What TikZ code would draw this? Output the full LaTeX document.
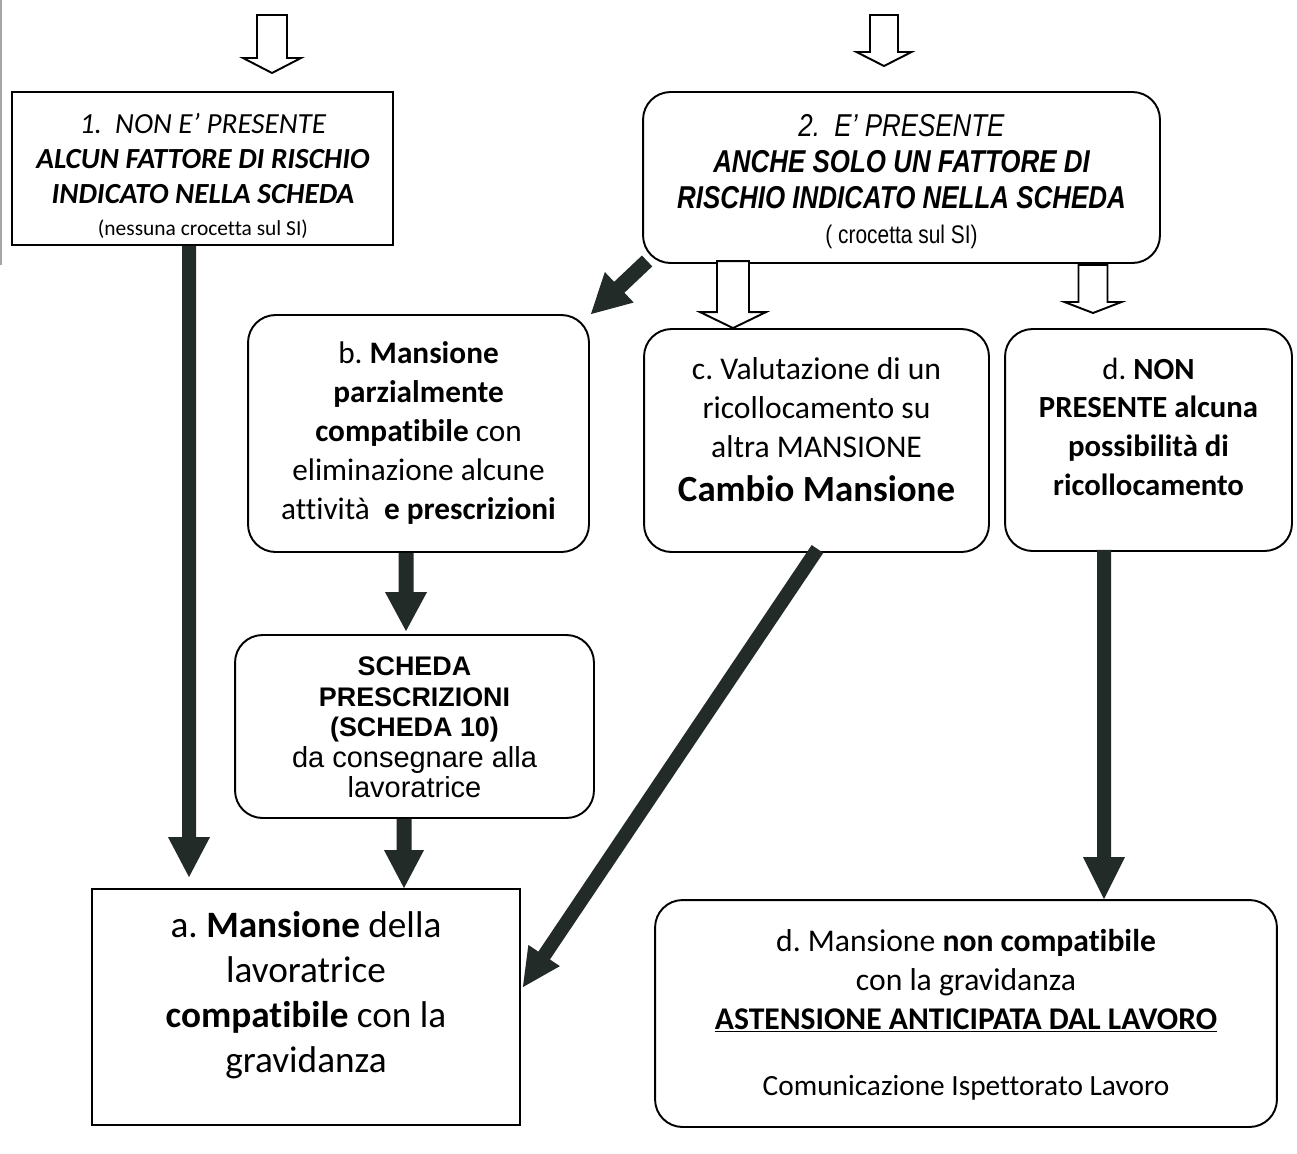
\documentclass[tikz,border=0pt]{standalone}
\usepackage{fontspec}
\setmainfont{Carlito}[Ligatures=NoCommon]
\newfontfamily\arialn[FakeStretch=0.82]{Liberation Sans}
\newfontfamily\arial{Liberation Sans}
\usetikzlibrary{calc}
\definecolor{arrdark}{RGB}{35,43,41}
\frenchspacing
\newcommand{\blockarr}[5]{%
  \coordinate (bah) at ($(#2)!#5!(#1)$);
  \fill[arrdark] ($(#1)!#3!90:(#2)$) -- ($(bah)!#3!90:(#2)$) -- ($(bah)!#4!90:(#2)$) -- (#2)
    -- ($(bah)!#4!-90:(#2)$) -- ($(bah)!#3!-90:(#2)$) -- ($(#1)!#3!-90:(#2)$) -- cycle;}
\begin{document}
\frenchspacing
\begin{tikzpicture}[x=0.02cm,y=-0.02cm,
  sqbox/.style={draw, line width=1.1pt, inner sep=0pt},
  rbox/.style={draw, line width=1.1pt, rounded corners=0.55cm, inner sep=0pt},
  txt/.style={align=center, inner sep=0pt},
  hollow/.style={draw, line width=1.1pt, fill=white, line join=miter}]
\fill[white] (0,0) rectangle (1297,1153);
\useasboundingbox (0,0) rectangle (1297,1153);
% scan edge
\draw[gray!70, line width=0.04cm] (1,0) -- (1,265);

% boxes
\node[sqbox, minimum width=7.62cm, minimum height=3.06cm] (n1) at (202.5,168.5) {};
\node[rbox, minimum width=10.34cm, minimum height=3.42cm] (n2) at (901.5,177.5) {};
\node[rbox, minimum width=6.82cm, minimum height=4.74cm] (nb) at (418.5,433.5) {};
\node[rbox, minimum width=6.9cm, minimum height=4.46cm] (nc) at (816.5,440.5) {};
\node[rbox, minimum width=5.74cm, minimum height=4.44cm] (nd) at (1148.5,440) {};
\node[rbox, minimum width=7.18cm, minimum height=3.66cm] (sch) at (414.5,726.5) {};
\node[sqbox, minimum width=8.56cm, minimum height=4.72cm] (na) at (306,1007) {};
\node[rbox, minimum width=12.44cm, minimum height=4.54cm] (nd2) at (966,1013.5) {};

% texts
\node[txt, font=\fontsize{16.6}{20}\selectfont] (t1) at (203,175.5)
 {{\itshape 1.\ \ NON E’ PRESENTE}\\ {\bfseries\itshape ALCUN FATTORE DI RISCHIO}\\ {\bfseries\itshape INDICATO NELLA SCHEDA}\\[-2pt]
  {\fontsize{12.2}{15}\selectfont (nessuna crocetta sul SI)}};
\node[txt, font=\arialn\fontsize{18}{20.5}\selectfont] (t2) at (901.5,181.5)
 {{\itshape 2.\ \ E’ PRESENTE}\\ {\bfseries\itshape ANCHE SOLO UN FATTORE DI}\\ {\bfseries\itshape RISCHIO INDICATO NELLA SCHEDA}\\[-1pt]
  {\fontsize{14.5}{15}\selectfont ( crocetta sul SI)}};
\node[txt, font=\fontsize{17.8}{22.3}\selectfont] (tb) at (418.5,433)
 {b. \textbf{Mansione}\\ \textbf{parzialmente}\\ \textbf{compatibile} con\\ eliminazione alcune\\ attività\ \ \textbf{e prescrizioni}};
\node[txt, font=\fontsize{18}{22.2}\selectfont] (tc) at (816.5,430)
 {c. Valutazione di un\\ ricollocamento su\\ altra MANSIONE\\[3pt] {\fontsize{21}{22}\selectfont\bfseries Cambio Mansione}};
\node[txt, font=\fontsize{17.5}{22}\selectfont] (td) at (1148.5,426.5)
 {d. \textbf{NON}\\ \textbf{PRESENTE alcuna}\\ \textbf{possibilità di}\\ \textbf{ricollocamento}};
\node[txt, font=\arial\fontsize{16.5}{17.3}\selectfont] (ts) at (414.5,727.5)
 {{\fontsize{15.3}{17.3}\selectfont\bfseries SCHEDA}\\ {\fontsize{15.3}{17.3}\selectfont\bfseries PRESCRIZIONI}\\ {\fontsize{15.3}{17.3}\selectfont\bfseries (SCHEDA 10)}\\ da consegnare alla\\ lavoratrice};
\node[txt, font=\fontsize{21.2}{25.5}\selectfont] (ta) at (306,995)
 {a. \textbf{Mansione} della\\ lavoratrice\\ \textbf{compatibile} con la\\ gravidanza};
\node[txt, font=\fontsize{18}{22}\selectfont] (td2) at (966,1015)
 {d. Mansione \textbf{non compatibile}\\ con la gravidanza\\ \underline{\textbf{ASTENSIONE ANTICIPATA DAL LAVORO}}\\[16pt]
  {\fontsize{16.7}{18}\selectfont Comunicazione Ispettorato Lavoro}};

% hollow arrows
\coordinate (h1) at (272,73);
\draw[hollow] (h1) -- ++(-29,-15) -- ++(14,0) -- ++(0,-43) -- ++(30,0) -- ++(0,43) -- ++(14,0) -- cycle;
\coordinate (h2) at (884,66);
\draw[hollow] (h2) -- ++(-27.5,-14) -- ++(13.5,0) -- ++(0,-37) -- ++(28,0) -- ++(0,37) -- ++(13.5,0) -- cycle;
\coordinate (h3) at (nc.north -| 733,0);
\draw[hollow] (h3) -- ++(-33,-16) -- ++(17,0) -- ++(0,-51) -- ++(32,0) -- ++(0,51) -- ++(17,0) -- cycle;
\coordinate (h4) at (1093,313);
\draw[hollow] (h4) -- ++(-28.5,-11) -- ++(14,0) -- ++(0,-37) -- ++(29,0) -- ++(0,37) -- ++(14,0) -- cycle;

% thick arrows
\coordinate (xa) at (189,0);
\coordinate (s1) at (n1.south -| xa);
\coordinate (e1) at ($(na.north -| xa)+(0,-11)$);
\blockarr{s1}{e1}{0.14cm}{0.42cm}{0.8cm}
\coordinate (xb) at (406,0);
\coordinate (s2) at (nb.south -| xb);
\coordinate (e2) at ($(sch.north -| xb)+(0,-3)$);
\blockarr{s2}{e2}{0.15cm}{0.42cm}{0.78cm}
\coordinate (xs) at (404,0);
\coordinate (s3) at (sch.south -| xs);
\coordinate (e3) at (na.north -| xs);
\blockarr{s3}{e3}{0.15cm}{0.4cm}{0.76cm}
\coordinate (xd) at (1104,0);
\coordinate (s4) at ($(nd.south -| xd)+(0,-2)$);
\coordinate (e4) at (nd2.north -| xd);
\blockarr{s4}{e4}{0.14cm}{0.42cm}{0.84cm}
\coordinate (s5) at ($(n2.south west)+(5,-3)$);
\coordinate (e5) at ($(nb.north east)+(1,0)$);
\blockarr{s5}{e5}{0.15cm}{0.42cm}{0.78cm}
\coordinate (s6) at ($(nc.south)+(1,-4)$);
\coordinate (e6) at ($(na.north east)+(2,99)$);
\blockarr{s6}{e6}{0.14cm}{0.38cm}{0.76cm}
\end{tikzpicture}
\end{document}
